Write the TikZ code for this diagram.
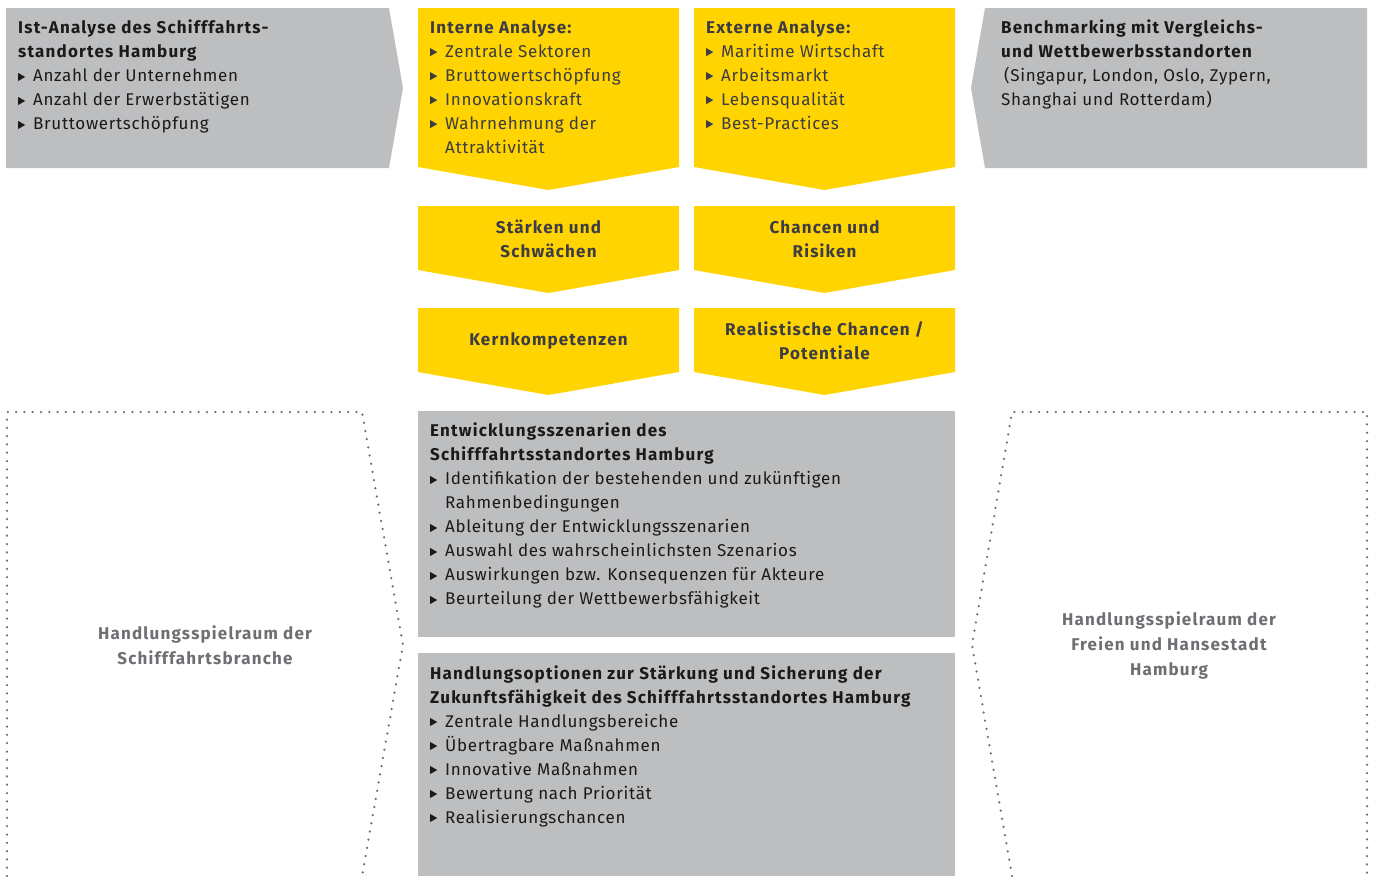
\documentclass[tikz,border=0pt]{standalone}
\usepackage{fontspec}
\setmainfont{Fira Sans}[LetterSpace=4.0, BoldFeatures={LetterSpace=7.0}]
\definecolor{boxgray}{HTML}{BDBEC0}
\definecolor{eyyellow}{HTML}{FFD400}
\definecolor{ink}{HTML}{1A1A1A}
\definecolor{yink}{HTML}{3C3C44}
\definecolor{dotgray}{HTML}{6E6E73}
\newcommand\bul{\makebox[15pt][l]{\tikz[x=1pt,y=1pt,baseline=0pt]\fill (0,1)--(0,9)--(7,5)--cycle;}}
\newcommand\ind{\hspace*{15pt}}
\begin{document}
\begin{tikzpicture}[x=1pt,y=-1pt,
  txt/.style={anchor=north west, inner sep=0pt, align=left, font=\fontsize{17}{24}\selectfont, text=ink},
  ytxt/.style={txt, text=yink},
  ctxt/.style={inner sep=0pt, align=center, font=\bfseries\fontsize{17}{24}\selectfont, text=yink},
  gtxt/.style={inner sep=0pt, align=center, font=\bfseries\fontsize{17}{25}\selectfont, text=dotgray},
  dots/.style={draw=dotgray, line width=2.5pt, line cap=round, dash pattern=on 0pt off 8.3pt}]
\useasboundingbox (0,0) rectangle (1375,876);
% shapes
\fill[boxgray] (6,8) -- (389,8) -- (403,88) -- (389,168) -- (6,168) -- cycle;
\fill[eyyellow] (418,8) -- (679,8) -- (679,167) -- (548.5,190) -- (418,167) -- cycle;
\fill[eyyellow] (694,8) -- (955,8) -- (955,167) -- (824.5,190) -- (694,167) -- cycle;
\fill[boxgray] (985,8) -- (1367,8) -- (1367,168) -- (985,168) -- (971,88) -- cycle;
\fill[eyyellow] (418,206) -- (679,206) -- (679,270) -- (548.5,293) -- (418,270) -- cycle;
\fill[eyyellow] (694,206) -- (955,206) -- (955,270) -- (824.5,293) -- (694,270) -- cycle;
\fill[eyyellow] (418,308) -- (679,308) -- (679,372) -- (548.5,395) -- (418,372) -- cycle;
\fill[eyyellow] (694,308) -- (955,308) -- (955,372) -- (824.5,395) -- (694,372) -- cycle;
\fill[boxgray] (418,411) rectangle (955,637);
\fill[boxgray] (418,653) rectangle (955,876);
\draw[dots] (7,876) -- (7,412) -- (362,412) -- (403,645) -- (362,876);
\draw[dots] (1012,876) -- (972,645) -- (1012,412) -- (1367,412) -- (1367,876);
% texts
\node[txt] (ist) at (18,20) {\textbf{Ist-Analyse des Schifffahrts-}\\\textbf{standortes Hamburg}\\\bul Anzahl der Unternehmen\\\bul Anzahl der Erwerbstätigen\\\bul Bruttowertschöpfung};
\node[ytxt] (intern) at (430,20) {\textbf{Interne Analyse:}\\\bul Zentrale Sektoren\\\bul Bruttowertschöpfung\\\bul Innovationskraft\\\bul Wahrnehmung der\\\ind Attraktivität};
\node[ytxt] (extern) at (706,20) {\textbf{Externe Analyse:}\\\bul Maritime Wirtschaft\\\bul Arbeitsmarkt\\\bul Lebensqualität\\\bul Best-Practices};
\node[txt] (bench) at (1001,20) {\textbf{Benchmarking mit Vergleichs-}\\\textbf{und Wettbewerbsstandorten}\\\hspace*{3pt}(Singapur, London, Oslo, Zypern,\\Shanghai und Rotterdam)};
\node[ctxt] (staerken) at (548.5,239) {Stärken und\\Schwächen};
\node[ctxt] (chancen) at (824.5,239) {Chancen und\\Risiken};
\node[ctxt] (kern) at (548.5,341) {Kernkompetenzen};
\node[ctxt] (real) at (824.5,341) {Realistische Chancen /\\Potentiale};
\node[txt] (entw) at (430,423) {\textbf{Entwicklungsszenarien des}\\\textbf{Schifffahrtsstandortes Hamburg}\\\bul Identifikation der bestehenden und zukünftigen\\\ind Rahmenbedingungen\\\bul Ableitung der Entwicklungsszenarien\\\bul Auswahl des wahrscheinlichsten Szenarios\\\bul Auswirkungen bzw. Konsequenzen für Akteure\\\bul Beurteilung der Wettbewerbsfähigkeit};
\node[txt] (handl) at (430,665) {\textbf{Handlungsoptionen zur Stärkung und Sicherung der}\\\textbf{Zukunftsfähigkeit des Schifffahrtsstandortes Hamburg}\\\bul Zentrale Handlungsbereiche\\\bul Übertragbare Maßnahmen\\\bul Innovative Maßnahmen\\\bul Bewertung nach Priorität\\\bul Realisierungschancen};
\node[gtxt] (spielL) at (205,645.5) {Handlungsspielraum der\\Schifffahrtsbranche};
\node[gtxt] (spielR) at (1169,645.5) {Handlungsspielraum der\\Freien und Hansestadt\\Hamburg};
\end{tikzpicture}
\end{document}
